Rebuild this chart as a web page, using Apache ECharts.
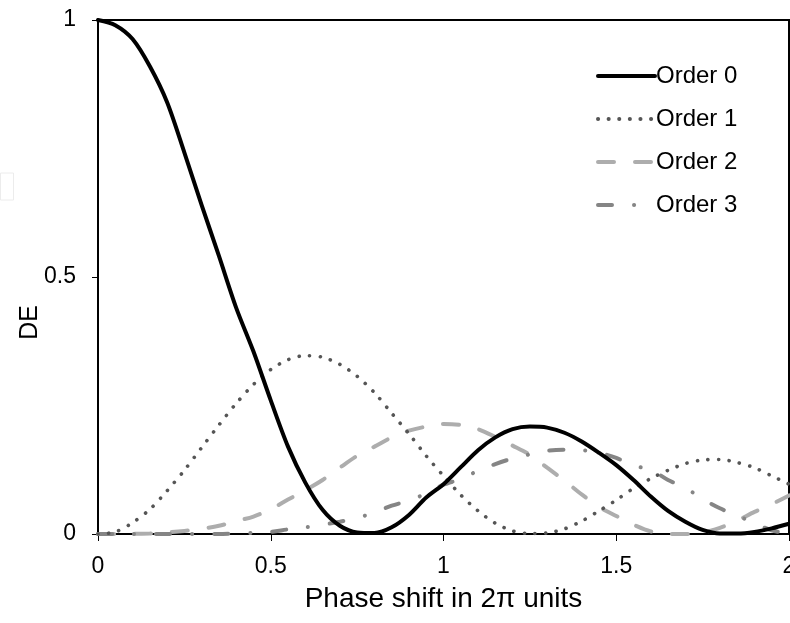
<!DOCTYPE html>
<html>
<head>
<meta charset="utf-8">
<script src="https://cdn.jsdelivr.net/npm/echarts@6/dist/echarts.min.js"></script>
<style>
html,body{margin:0;padding:0;background:#fff;}
#chart{width:790px;height:623px;}
</style>
</head>
<body>
<div id="chart"></div>
<script>
var phase = [0,0.05,0.1,0.15,0.2,0.25,0.3,0.35,0.4,0.45,0.5,0.55,0.6,0.65,0.7,0.75,0.8,0.85,0.9,0.95,1,
             1.05,1.1,1.15,1.2,1.25,1.3,1.35,1.4,1.45,1.5,1.55,1.6,1.65,1.7,1.75,1.8,1.85,1.9,1.95,2];
var order0 = [1.0,0.99,0.963,0.91,0.84,0.742,0.64,0.541,0.44,0.355,0.26,0.17,0.10,0.047,0.016,0.003,0.002,0.013,0.037,0.071,0.097,
              0.13,0.163,0.188,0.204,0.209,0.207,0.197,0.18,0.158,0.134,0.105,0.073,0.045,0.024,0.008,0.001,0.001,0.004,0.011,0.02];
var order1 = [0,0.004,0.022,0.048,0.084,0.124,0.168,0.212,0.254,0.291,0.32,0.339,0.347,0.344,0.33,0.307,0.275,0.235,0.195,0.152,0.113,
              0.076,0.045,0.021,0.006,0.001,0.002,0.01,0.025,0.045,0.066,0.089,0.108,0.124,0.137,0.144,0.145,0.139,0.129,0.113,0.097];
var order2 = [0,0,0.0005,0.001,0.003,0.006,0.01,0.016,0.025,0.034,0.048,0.067,0.085,0.105,0.129,0.152,0.17,0.188,0.201,0.209,0.214,
              0.212,0.204,0.189,0.172,0.154,0.129,0.104,0.077,0.053,0.035,0.018,0.005,0,0,0.003,0.012,0.026,0.043,0.058,0.075];
var order3 = [0,0,0,0,0,0,0,0,0.001,0.002,0.004,0.009,0.013,0.018,0.024,0.031,0.042,0.055,0.065,0.079,0.096,
              0.107,0.123,0.136,0.147,0.155,0.162,0.164,0.163,0.158,0.148,0.133,0.125,0.105,0.09,0.068,0.05,0.036,0.021,0.007,0.001];
var seriesNames = ['Order 0','Order 1','Order 2','Order 3'];
var xTicks = ['0','0.5','1','1.5','2'];
var yTicks = ['0','0.5','1'];
var xTitle = 'Phase shift in 2\u03c0 units';
var yTitle = 'DE';

function pairs(ys){ return phase.map(function(x,i){ return [x, ys[i]]; }); }
var FONT = '"Liberation Sans", Arial, Helvetica, sans-serif';

var chart = echarts.init(document.getElementById('chart'));
chart.setOption({
  animation: false,
  backgroundColor: '#ffffff',
  grid: {left: 98, right: 1, top: 20, bottom: 89, outerBoundsMode: 'none', containLabel: false,
         show: true, borderColor: '#000', borderWidth: 2, backgroundColor: 'transparent'},
  xAxis: {
    type: 'value', min: 0, max: 2, interval: 0.5,
    name: xTitle, nameLocation: 'middle', nameGap: 51, nameMoveOverlap: false,
    nameTextStyle: {fontFamily: FONT, fontSize: 28, color: '#000'},
    axisLine: {show: true, lineStyle: {color: '#000', width: 2}},
    axisTick: {show: true, inside: false, length: 7, lineStyle: {color: '#000', width: 1}},
    axisLabel: {fontFamily: FONT, fontSize: 23, color: '#000', margin: 21,
      formatter: function(v){ var i = Math.round(v/0.5); return xTicks[i] !== undefined ? xTicks[i] : ''; }},
    splitLine: {show: false}
  },
  yAxis: {
    type: 'value', min: 0, max: 1, interval: 0.5,
    name: yTitle, nameLocation: 'middle', nameGap: 55, nameRotate: 90, nameMoveOverlap: false,
    nameTextStyle: {fontFamily: FONT, fontSize: 25, color: '#000', align: 'right', padding: [0, 28, 0, 0]},
    axisLine: {show: true, lineStyle: {color: '#000', width: 2}},
    axisTick: {show: true, inside: false, length: 6, lineStyle: {color: '#000', width: 1}},
    axisLabel: {fontFamily: FONT, fontSize: 23, color: '#000', margin: 22,
      formatter: function(v){ var i = Math.round(v/0.5); return yTicks[i] !== undefined ? yTicks[i] : ''; }},
    splitLine: {show: false}
  },
  legend: {
    orient: 'vertical', left: 591, top: 59,
    itemWidth: 57, itemHeight: 28, itemGap: 19,
    itemStyle: {opacity: 0},
    lineStyle: {width: 4},
    textStyle: {fontFamily: FONT, fontSize: 24, color: '#000', padding: [0,0,0,-4]},
    data: seriesNames
  },
  graphic: [{type: 'rect', shape: {x: 0.5, y: 173, width: 13, height: 27}, style: {fill: 'none', stroke: '#ececec', lineWidth: 1}, silent: true}],
  series: [
    {name: seriesNames[0], type: 'line', data: pairs(order0), symbol: 'none', smooth: 0.3, z: 5,
     lineStyle: {color: '#000', width: 4, cap: 'round', join: 'round'}, itemStyle: {color: '#000'}},
    {name: seriesNames[1], type: 'line', data: pairs(order1), symbol: 'none', smooth: 0.3, z: 4,
     lineStyle: {color: '#555', width: 3.6, type: [0.1, 10.5], cap: 'round'}, itemStyle: {color: '#555'}},
    {name: seriesNames[2], type: 'line', data: pairs(order2), symbol: 'none', smooth: 0.3, z: 3,
     lineStyle: {color: '#adadad', width: 4, type: [16, 21], cap: 'round'}, itemStyle: {color: '#adadad'}},
    {name: seriesNames[3], type: 'line', data: pairs(order3), symbol: 'none', smooth: 0.3, z: 3,
     lineStyle: {color: '#858585', width: 4, type: [14, 22, 0.1, 22], cap: 'round'}, itemStyle: {color: '#858585'}}
  ]
});
</script>
</body>
</html>
